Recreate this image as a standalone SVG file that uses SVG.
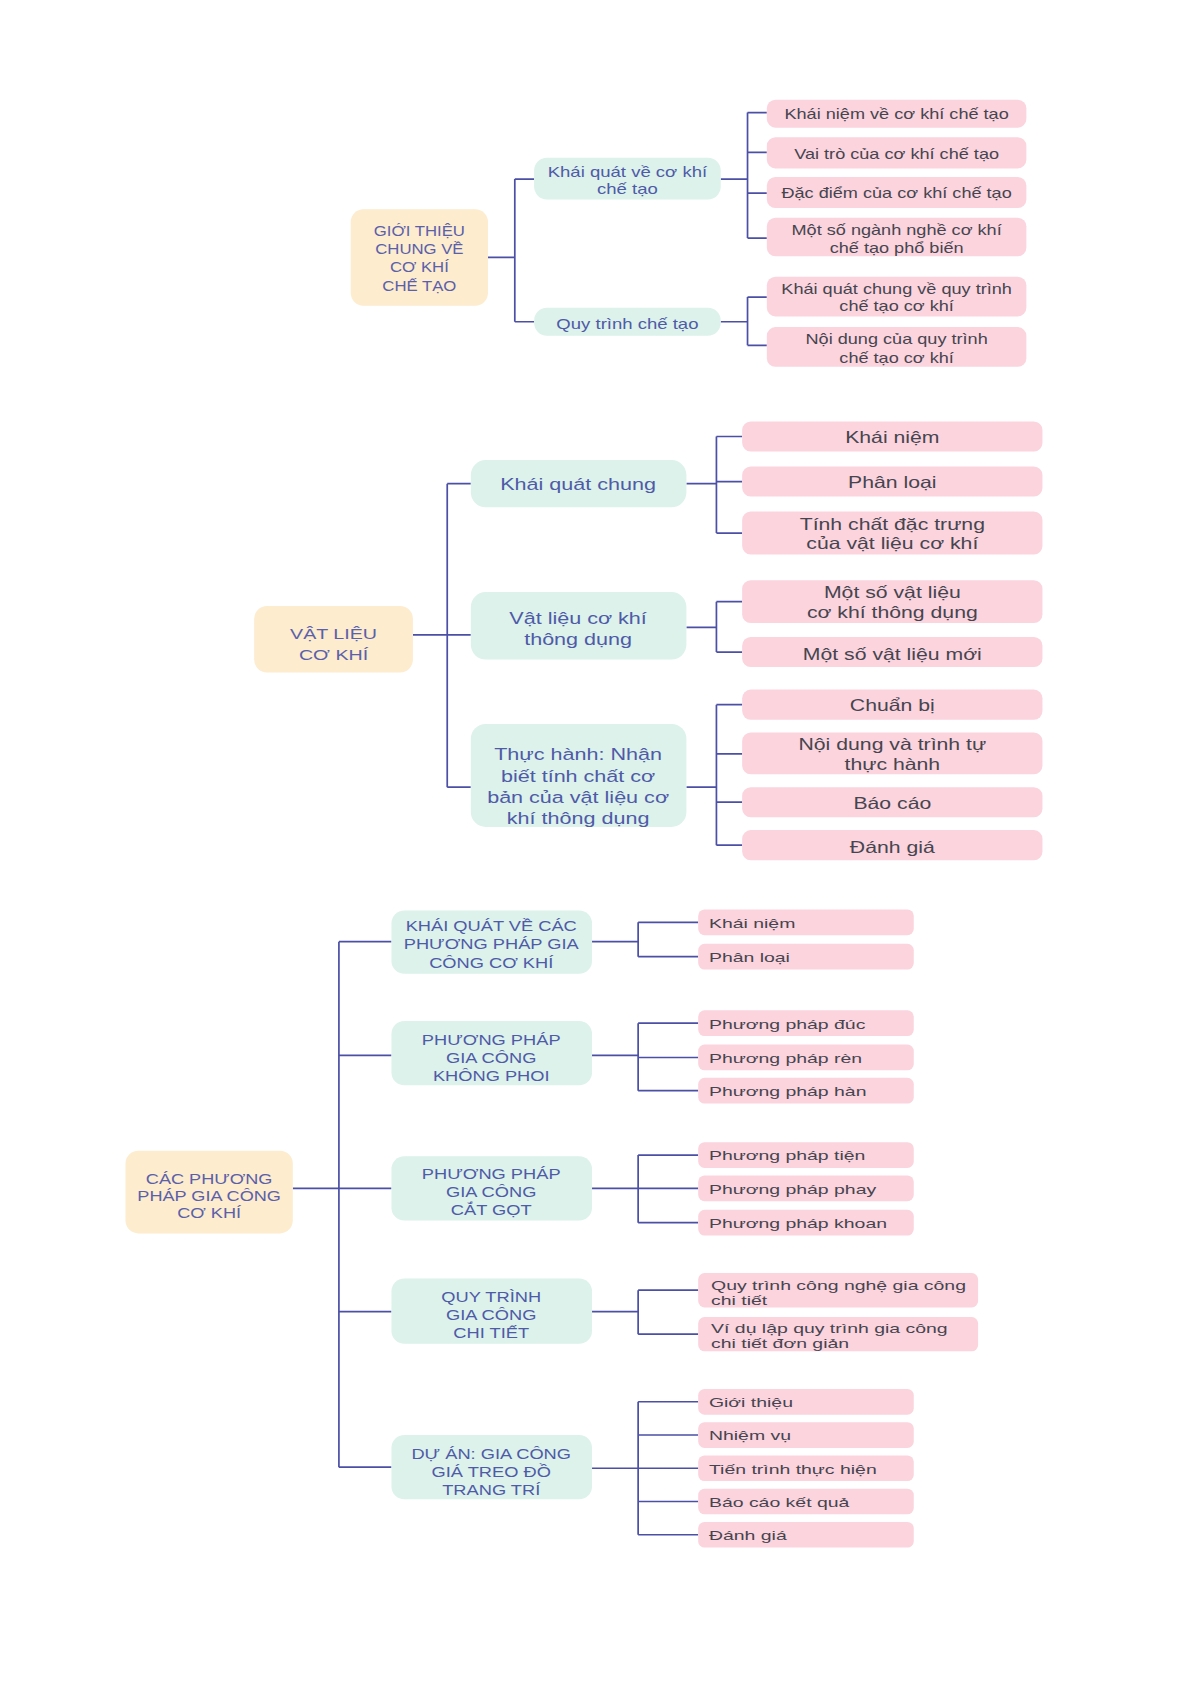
<svg xmlns="http://www.w3.org/2000/svg" width="1192" height="1685" viewBox="0 0 1192 1685">
<style>
.root{fill:#fdecce}
.mid{fill:#dcf2ea}
.leaf{fill:#fbd4de}
.c{fill:none;stroke:#4b50a6;stroke-width:1.6}
text{font-family:"Liberation Sans","Noto Sans",sans-serif}
.tr{fill:#5a60aa;font-size:13px;text-anchor:middle}
.tr2{fill:#5a60aa;font-size:14px;text-anchor:middle}
.tm{fill:#4f5aa8;font-size:13px;text-anchor:middle}
.tm2{fill:#4f5aa8;font-size:15px;text-anchor:middle}
.tl{fill:#46454f;font-size:13px;text-anchor:middle}
.tl2{fill:#46454f;font-size:15px;text-anchor:middle}
.tl3{fill:#46454f;font-size:12.5px}
</style>
<rect width="1192" height="1685" fill="#fff"/>
<g transform="scale(1.0725)">
<g id="connectors">
<path class="c" d="M455 240H480M480 167V300M480 167H498M480 300H498"/>
<path class="c" d="M672 167H697M697 105V222M697 105H715M697 142H715M697 180H715M697 222H715"/>
<path class="c" d="M672 300H697M697 277V322M697 277H715M697 322H715"/>
<path class="c" d="M385 592H417M417 451V734M417 451H439M417 592H439M417 734H439"/>
<path class="c" d="M640 451H668M668 407V497M668 407H692M668 449H692M668 497H692"/>
<path class="c" d="M640 585H668M668 561V608M668 561H692M668 608H692"/>
<path class="c" d="M640 734H668M668 657V788M668 657H692M668 703H692M668 748H692M668 788H692"/>
<path class="c" d="M273 1108H316M316 878V1368M316 878H365M316 984H365M316 1108H365M316 1223H365M316 1368H365"/>
<path class="c" d="M552 878H595M595 860V892M595 860H651M595 892H651"/>
<path class="c" d="M552 984H595M595 954V1017M595 954H651M595 986H651M595 1017H651"/>
<path class="c" d="M552 1108H595M595 1077V1140M595 1077H651M595 1108H651M595 1140H651"/>
<path class="c" d="M552 1223H595M595 1203V1244M595 1203H651M595 1244H651"/>
<path class="c" d="M552 1369H595M595 1307V1431M595 1307H651M595 1338H651M595 1369H651M595 1400H651M595 1431H651"/>
</g>
<g id="s1-root"><rect class="root" x="327" y="195" width="128" height="90" rx="12"/>
<g transform="matrix(1.2 0 0 1 391 0)"><text class="tr" x="0" y="220">GIỚI THIỆU</text><text class="tr" x="0" y="237">CHUNG VỀ</text><text class="tr" x="0" y="254">CƠ KHÍ</text><text class="tr" x="0" y="271">CHẾ TẠO</text></g></g>
<g id="s1-m1"><rect class="mid" x="498" y="147" width="174" height="39" rx="12"/>
<g transform="matrix(1.33 0 0 1 585 0)"><text class="tm" x="0" y="165">Khái quát về cơ khí</text><text class="tm" x="0" y="181">chế tạo</text></g></g>
<g id="s1-m2"><rect class="mid" x="498" y="287" width="174" height="26" rx="12"/>
<g transform="matrix(1.33 0 0 1 585 0)"><text class="tm" x="0" y="307">Quy trình chế tạo</text></g></g>
<g id="s1-l1"><rect class="leaf" x="715" y="93" width="242" height="26" rx="8"/>
<g transform="matrix(1.3 0 0 1 836 0)"><text class="tl" x="0" y="111">Khái niệm về cơ khí chế tạo</text></g></g>
<g id="s1-l2"><rect class="leaf" x="715" y="128" width="242" height="29" rx="8"/>
<g transform="matrix(1.3 0 0 1 836 0)"><text class="tl" x="0" y="148">Vai trò của cơ khí chế tạo</text></g></g>
<g id="s1-l3"><rect class="leaf" x="715" y="165" width="242" height="29" rx="8"/>
<g transform="matrix(1.3 0 0 1 836 0)"><text class="tl" x="0" y="185">Đặc điểm của cơ khí chế tạo</text></g></g>
<g id="s1-l4"><rect class="leaf" x="715" y="203" width="242" height="36" rx="8"/>
<g transform="matrix(1.3 0 0 1 836 0)"><text class="tl" x="0" y="219">Một số ngành nghề cơ khí</text><text class="tl" x="0" y="236">chế tạo phổ biến</text></g></g>
<g id="s1-l5"><rect class="leaf" x="715" y="258" width="242" height="37" rx="8"/>
<g transform="matrix(1.3 0 0 1 836 0)"><text class="tl" x="0" y="274">Khái quát chung về quy trình</text><text class="tl" x="0" y="290">chế tạo cơ khí</text></g></g>
<g id="s1-l6"><rect class="leaf" x="715" y="305" width="242" height="37" rx="8"/>
<g transform="matrix(1.3 0 0 1 836 0)"><text class="tl" x="0" y="321">Nội dung của quy trình</text><text class="tl" x="0" y="338">chế tạo cơ khí</text></g></g>
<g id="s2-root"><rect class="root" x="237" y="565" width="148" height="62" rx="12"/>
<g transform="matrix(1.31 0 0 1 311 0)"><text class="tr2" x="0" y="596">VẬT LIỆU</text><text class="tr2" x="0" y="615">CƠ KHÍ</text></g></g>
<g id="s2-m1"><rect class="mid" x="439" y="429" width="201" height="44" rx="14"/>
<g transform="matrix(1.34 0 0 1 539 0)"><text class="tm2" x="0" y="457">Khái quát chung</text></g></g>
<g id="s2-m2"><rect class="mid" x="439" y="552" width="201" height="63" rx="14"/>
<g transform="matrix(1.34 0 0 1 539 0)"><text class="tm2" x="0" y="582">Vật liệu cơ khí</text><text class="tm2" x="0" y="601">thông dụng</text></g></g>
<g id="s2-m3"><rect class="mid" x="439" y="675" width="201" height="96" rx="14"/>
<g transform="matrix(1.34 0 0 1 539 0)"><text class="tm2" x="0" y="709">Thực hành: Nhận</text><text class="tm2" x="0" y="729">biết tính chất cơ</text><text class="tm2" x="0" y="749">bản của vật liệu cơ</text><text class="tm2" x="0" y="768">khí thông dụng</text></g></g>
<g id="s2-l1"><rect class="leaf" x="692" y="393" width="280" height="28" rx="8"/>
<g transform="matrix(1.32 0 0 1 832 0)"><text class="tl2" x="0" y="413">Khái niệm</text></g></g>
<g id="s2-l2"><rect class="leaf" x="692" y="435" width="280" height="28" rx="8"/>
<g transform="matrix(1.32 0 0 1 832 0)"><text class="tl2" x="0" y="455">Phân loại</text></g></g>
<g id="s2-l3"><rect class="leaf" x="692" y="477" width="280" height="40" rx="8"/>
<g transform="matrix(1.32 0 0 1 832 0)"><text class="tl2" x="0" y="494">Tính chất đặc trưng</text><text class="tl2" x="0" y="512">của vật liệu cơ khí</text></g></g>
<g id="s2-l4"><rect class="leaf" x="692" y="541" width="280" height="40" rx="8"/>
<g transform="matrix(1.32 0 0 1 832 0)"><text class="tl2" x="0" y="558">Một số vật liệu</text><text class="tl2" x="0" y="576">cơ khí thông dụng</text></g></g>
<g id="s2-l5"><rect class="leaf" x="692" y="594" width="280" height="28" rx="8"/>
<g transform="matrix(1.32 0 0 1 832 0)"><text class="tl2" x="0" y="615">Một số vật liệu mới</text></g></g>
<g id="s2-l6"><rect class="leaf" x="692" y="643" width="280" height="28" rx="8"/>
<g transform="matrix(1.32 0 0 1 832 0)"><text class="tl2" x="0" y="663">Chuẩn bị</text></g></g>
<g id="s2-l7"><rect class="leaf" x="692" y="683" width="280" height="39" rx="8"/>
<g transform="matrix(1.32 0 0 1 832 0)"><text class="tl2" x="0" y="699">Nội dung và trình tự</text><text class="tl2" x="0" y="718">thực hành</text></g></g>
<g id="s2-l8"><rect class="leaf" x="692" y="734" width="280" height="28" rx="8"/>
<g transform="matrix(1.32 0 0 1 832 0)"><text class="tl2" x="0" y="754">Báo cáo</text></g></g>
<g id="s2-l9"><rect class="leaf" x="692" y="774" width="280" height="28" rx="8"/>
<g transform="matrix(1.32 0 0 1 832 0)"><text class="tl2" x="0" y="795">Đánh giá</text></g></g>
<g id="s3-root"><rect class="root" x="117" y="1073" width="156" height="77" rx="12"/>
<g transform="matrix(1.3 0 0 1 195 0)"><text class="tr" x="0" y="1104">CÁC  PHƯƠNG</text><text class="tr" x="0" y="1120">PHÁP GIA CÔNG</text><text class="tr" x="0" y="1136">CƠ KHÍ</text></g></g>
<g id="s3-m1"><rect class="mid" x="365" y="849" width="187" height="59" rx="12"/>
<g transform="matrix(1.31 0 0 1 458 0)"><text class="tm" x="0" y="868">KHÁI QUÁT VỀ CÁC</text><text class="tm" x="0" y="885">PHƯƠNG PHÁP GIA</text><text class="tm" x="0" y="903">CÔNG CƠ KHÍ</text></g></g>
<g id="s3-m2"><rect class="mid" x="365" y="952" width="187" height="60" rx="12"/>
<g transform="matrix(1.31 0 0 1 458 0)"><text class="tm" x="0" y="974">PHƯƠNG PHÁP</text><text class="tm" x="0" y="991">GIA CÔNG</text><text class="tm" x="0" y="1008">KHÔNG PHOI</text></g></g>
<g id="s3-m3"><rect class="mid" x="365" y="1078" width="187" height="60" rx="12"/>
<g transform="matrix(1.31 0 0 1 458 0)"><text class="tm" x="0" y="1099">PHƯƠNG PHÁP</text><text class="tm" x="0" y="1116">GIA CÔNG</text><text class="tm" x="0" y="1133">CẮT GỌT</text></g></g>
<g id="s3-m4"><rect class="mid" x="365" y="1192" width="187" height="61" rx="12"/>
<g transform="matrix(1.31 0 0 1 458 0)"><text class="tm" x="0" y="1214">QUY TRÌNH</text><text class="tm" x="0" y="1231">GIA CÔNG</text><text class="tm" x="0" y="1248">CHI TIẾT</text></g></g>
<g id="s3-m5"><rect class="mid" x="365" y="1338" width="187" height="60" rx="12"/>
<g transform="matrix(1.31 0 0 1 458 0)"><text class="tm" x="0" y="1360">DỰ ÁN: GIA CÔNG</text><text class="tm" x="0" y="1377">GIÁ TREO ĐỒ</text><text class="tm" x="0" y="1394">TRANG TRÍ</text></g></g>
<g id="s3-l1"><rect class="leaf" x="651" y="848" width="201" height="24" rx="6"/>
<g transform="matrix(1.45 0 0 1 661 0)"><text class="tl3" x="0" y="865">Khái niệm</text></g></g>
<g id="s3-l2"><rect class="leaf" x="651" y="880" width="201" height="24" rx="6"/>
<g transform="matrix(1.45 0 0 1 661 0)"><text class="tl3" x="0" y="897">Phân loại</text></g></g>
<g id="s3-l3"><rect class="leaf" x="651" y="942" width="201" height="24" rx="6"/>
<g transform="matrix(1.45 0 0 1 661 0)"><text class="tl3" x="0" y="959">Phương pháp đúc</text></g></g>
<g id="s3-l4"><rect class="leaf" x="651" y="974" width="201" height="24" rx="6"/>
<g transform="matrix(1.45 0 0 1 661 0)"><text class="tl3" x="0" y="991">Phương pháp rèn</text></g></g>
<g id="s3-l5"><rect class="leaf" x="651" y="1005" width="201" height="24" rx="6"/>
<g transform="matrix(1.45 0 0 1 661 0)"><text class="tl3" x="0" y="1022">Phương pháp hàn</text></g></g>
<g id="s3-l6"><rect class="leaf" x="651" y="1065" width="201" height="24" rx="6"/>
<g transform="matrix(1.45 0 0 1 661 0)"><text class="tl3" x="0" y="1082">Phương pháp tiện</text></g></g>
<g id="s3-l7"><rect class="leaf" x="651" y="1096" width="201" height="24" rx="6"/>
<g transform="matrix(1.45 0 0 1 661 0)"><text class="tl3" x="0" y="1113">Phương pháp phay</text></g></g>
<g id="s3-l8"><rect class="leaf" x="651" y="1128" width="201" height="24" rx="6"/>
<g transform="matrix(1.45 0 0 1 661 0)"><text class="tl3" x="0" y="1145">Phương pháp khoan</text></g></g>
<g id="s3-l9"><rect class="leaf" x="651" y="1187" width="261" height="32" rx="6"/>
<g transform="matrix(1.45 0 0 1 663 0)"><text class="tl3" x="0" y="1203">Quy trình công nghệ gia công</text><text class="tl3" x="0" y="1217">chi tiết</text></g></g>
<g id="s3-l10"><rect class="leaf" x="651" y="1228" width="261" height="32" rx="6"/>
<g transform="matrix(1.45 0 0 1 663 0)"><text class="tl3" x="0" y="1243">Ví dụ lập quy trình gia công</text><text class="tl3" x="0" y="1257">chi tiết đơn giản</text></g></g>
<g id="s3-l11"><rect class="leaf" x="651" y="1295" width="201" height="24" rx="6"/>
<g transform="matrix(1.45 0 0 1 661 0)"><text class="tl3" x="0" y="1312">Giới thiệu</text></g></g>
<g id="s3-l12"><rect class="leaf" x="651" y="1326" width="201" height="24" rx="6"/>
<g transform="matrix(1.45 0 0 1 661 0)"><text class="tl3" x="0" y="1343">Nhiệm vụ</text></g></g>
<g id="s3-l13"><rect class="leaf" x="651" y="1357" width="201" height="24" rx="6"/>
<g transform="matrix(1.45 0 0 1 661 0)"><text class="tl3" x="0" y="1374">Tiến trình thực hiện</text></g></g>
<g id="s3-l14"><rect class="leaf" x="651" y="1388" width="201" height="24" rx="6"/>
<g transform="matrix(1.45 0 0 1 661 0)"><text class="tl3" x="0" y="1405">Báo cáo kết quả</text></g></g>
<g id="s3-l15"><rect class="leaf" x="651" y="1419" width="201" height="24" rx="6"/>
<g transform="matrix(1.45 0 0 1 661 0)"><text class="tl3" x="0" y="1436">Đánh giá</text></g></g>
</g>
</svg>
